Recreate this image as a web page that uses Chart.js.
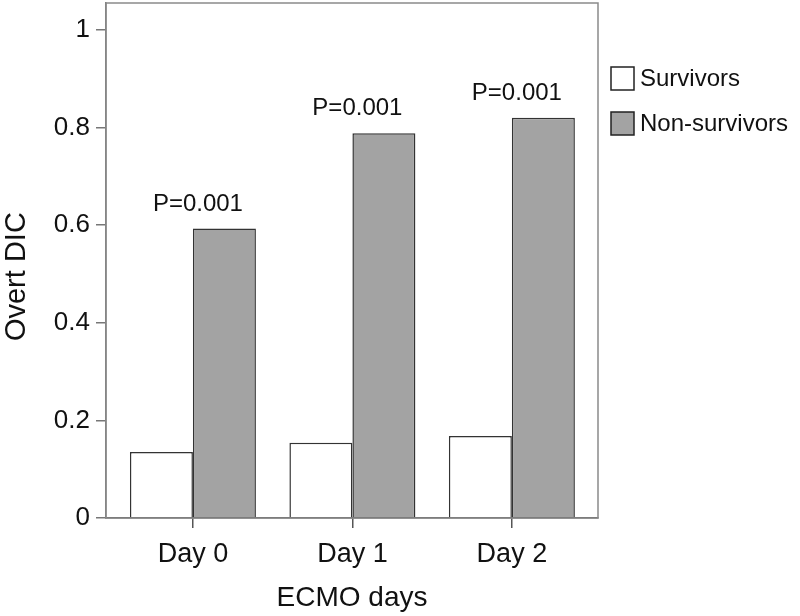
<!DOCTYPE html>
<html>
<head>
<meta charset="utf-8">
<script src="https://cdn.jsdelivr.net/npm/chart.js@4"></script>
<style>
  html, body { margin: 0; padding: 0; background: #fff; }
  #wrap { width: 800px; height: 616px; }
</style>
</head>
<body>
<div id="wrap"><canvas id="chart" width="800" height="616"></canvas></div>
<script>
// Data
const days = ['Day 0', 'Day 1', 'Day 2'];
const survivors = [0.135, 0.154, 0.168];
const nonSurvivors = [0.593, 0.788, 0.820];
const pValues = ['P=0.001', 'P=0.001', 'P=0.001'];
const yTicks = [0, 0.2, 0.4, 0.6, 0.8, 1];

const FONT = 'Liberation Sans, Arial, Helvetica, sans-serif';

// Draws the box round the plot area
const frame = {
    id: 'frame',
    afterDatasetsDraw(chart) {
        const { ctx, chartArea: a } = chart;
        ctx.save();
        ctx.strokeStyle = '#8a8a8a';
        ctx.lineWidth = 1.5;
        ctx.strokeRect(a.left, a.top, a.right - a.left, a.bottom - a.top);
        ctx.restore();
    }
};

// P value above each pair of bars
const pLabels = {
    id: 'pLabels',
    afterDatasetsDraw(chart) {
        const { ctx } = chart;
        const meta = chart.getDatasetMeta(1);
        ctx.save();
        ctx.font = '24px ' + FONT;
        ctx.fillStyle = '#111';
        ctx.textAlign = 'center';
        ctx.textBaseline = 'alphabetic';
        meta.data.forEach((bar, i) => {
            const x = chart.scales.x.getPixelForValue(i);
            ctx.fillText(pValues[i], x + 5, bar.y - 18);
        });
        ctx.restore();
    }
};

// Legend at the right, drawn from the dataset labels
const sideLegend = {
    id: 'sideLegend',
    afterDraw(chart) {
        const { ctx } = chart;
        ctx.save();
        ctx.font = '24px ' + FONT;
        ctx.textBaseline = 'middle';
        chart.data.datasets.forEach((ds, i) => {
            const y = 67 + i * 45;
            ctx.fillStyle = ds.backgroundColor;
            ctx.fillRect(611, y, 23, 23);
            ctx.strokeStyle = '#222';
            ctx.lineWidth = 1.5;
            ctx.strokeRect(611, y, 23, 23);
            ctx.fillStyle = '#111';
            ctx.fillText(ds.label, 640, y + 12);
        });
        ctx.restore();
    }
};

new Chart(document.getElementById('chart'), {
    type: 'bar',
    data: {
        datasets: [
            {
                label: 'Survivors',
                data: survivors.map((v, i) => ({ x: i, y: v })),
                backgroundColor: '#ffffff',
                borderColor: '#333333',
                borderWidth: 1.5
            },
            {
                label: 'Non-survivors',
                data: nonSurvivors.map((v, i) => ({ x: i, y: v })),
                backgroundColor: '#a3a3a3',
                borderColor: '#333333',
                borderWidth: 1.5
            }
        ]
    },
    options: {
        responsive: false,
        animation: false,
        layout: { padding: { left: 0, right: 202, top: 3, bottom: 0 } },
        datasets: {
            bar: { categoryPercentage: 0.79, barPercentage: 1.0 }
        },
        plugins: {
            legend: { display: false },
            tooltip: { enabled: false }
        },
        scales: {
            x: {
                type: 'linear',
                min: -0.545,
                max: 2.54,
                offset: false,
                border: { display: true, color: '#555', width: 1.5 },
                grid: {
                    offset: false,
                    drawOnChartArea: false,
                    drawTicks: true,
                    tickLength: 10,
                    color: '#555',
                    lineWidth: 1.5
                },
                afterBuildTicks(scale) {
                    scale.ticks = days.map((d, i) => ({ value: i }));
                },
                ticks: {
                    padding: 10,
                    color: '#111',
                    font: { family: FONT, size: 27 },
                    callback: v => days[v]
                },
                title: {
                    display: true,
                    text: 'ECMO days',
                    color: '#111',
                    font: { family: FONT, size: 28 },
                    padding: { top: 4, bottom: 1 }
                },
                afterFit(scale) {
                    scale.height = 98;
                    scale.paddingLeft = 0;
                    scale.paddingRight = 0;
                }
            },
            y: {
                min: 0,
                max: 1.055,
                border: { display: true, color: '#777', width: 1.5 },
                grid: {
                    drawOnChartArea: false,
                    drawTicks: true,
                    tickLength: 10,
                    color: '#777',
                    lineWidth: 1.5
                },
                afterBuildTicks(scale) {
                    scale.ticks = yTicks.map(v => ({ value: v }));
                },
                ticks: {
                    padding: 6,
                    color: '#111',
                    font: { family: FONT, size: 26 },
                    callback: v => String(Math.round(v * 10) / 10)
                },
                title: {
                    display: true,
                    text: 'Overt DIC    ',
                    color: '#111',
                    font: { family: FONT, size: 29 },
                    padding: { top: 0, bottom: 4 }
                },
                afterFit(scale) {
                    scale.width = 106;
                    scale.paddingTop = 0;
                    scale.paddingBottom = 0;
                }
            }
        }
    },
    plugins: [frame, pLabels, sideLegend]
});
</script>
</body>
</html>
